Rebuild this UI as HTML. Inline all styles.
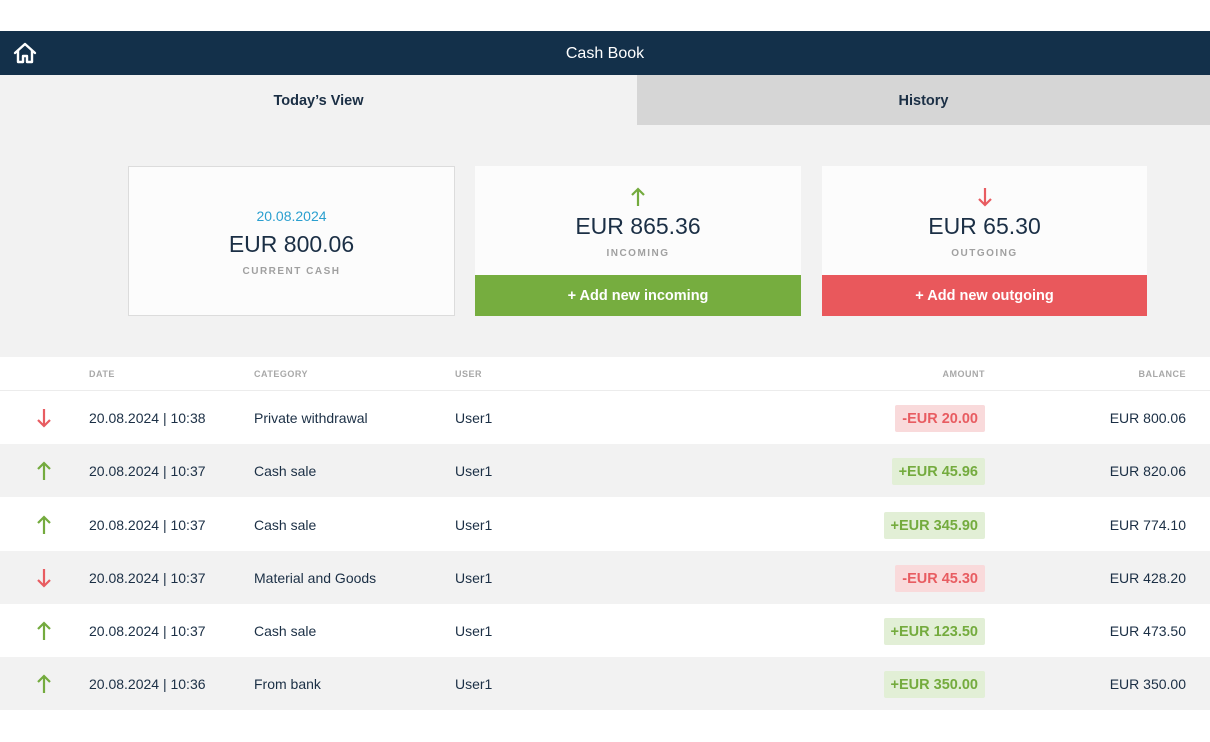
<!DOCTYPE html>
<html><head><meta charset="utf-8"><style>
*{margin:0;padding:0;box-sizing:border-box}
body{width:1210px;height:742px;background:#fff;font-family:"Liberation Sans",sans-serif;color:#1b2f45;position:relative;overflow:hidden}
.a{position:absolute}
.nav{left:0;top:31px;width:1210px;height:44px;background:#13304a;color:#fff;font-size:16px;text-align:center;line-height:46px}
.tab1{left:0;top:75px;width:637px;height:50px;background:#f2f2f2;text-align:center;line-height:52px;font-size:14.5px;font-weight:bold;color:#1b2f45}
.tab2{left:637px;top:75px;width:573px;height:50px;background:#d6d6d6;text-align:center;line-height:52px;font-size:14.5px;font-weight:bold;color:#1b2f45}
.bg{left:0;top:125px;width:1210px;height:232px;background:#f2f2f2}
.card{background:#fcfcfc;text-align:center}
.big{font-size:23px;color:#1b2f45}
.lbl{font-size:10px;letter-spacing:1.5px;color:#a0a0a0;font-weight:bold}
.btn{color:#fff;font-weight:bold;font-size:14.5px;text-align:center;line-height:43px}
.row{left:0;width:1210px;height:53px;font-size:14px;line-height:55px}
.row span{position:absolute}
.hd{font-size:9px;color:#a8a8a8;font-weight:bold;letter-spacing:.5px}
.pill{position:absolute;right:225px;top:14px;height:27px;line-height:28px;padding:0 7px;font-weight:bold;font-size:14.5px;border-radius:2px}
.neg{background:#f9dadb;color:#e85c61}
.pos{background:#e2efd6;color:#74ab3e}
.bal{right:24px}
</style></head><body>
<div class="a nav">Cash Book</div>
<svg class="a" style="left:13px;top:42px" width="24" height="22" viewBox="0 0 24 22"><path d="M2 11 L12 2 L22 11 M5 9 V20 H10 V14 H14 V20 H19 V9" fill="none" stroke="#fff" stroke-width="2.4" stroke-linejoin="round" stroke-linecap="round"/></svg>
<div class="a tab1">Today’s View</div>
<div class="a tab2">History</div>
<div class="a bg"></div>
<div class="a card" style="left:128px;top:166px;width:327px;height:150px;border:1px solid #dcdcdc">
<div style="margin-top:41px;font-size:14px;color:#2a9fcf">20.08.2024</div>
<div class="big" style="margin-top:7px">EUR 800.06</div>
<div class="lbl" style="margin-top:8px">CURRENT CASH</div></div>
<div class="a card" style="left:475px;top:166px;width:326px;height:109px">
<svg style="margin-top:21px" width="14" height="20" viewBox="0 0 14 20"><path d="M7 19 V2 M1 8 L7 2 L13 8" fill="none" stroke="#74ab3e" stroke-width="2.2"/></svg>
<div class="big" style="margin-top:1px">EUR 865.36</div>
<div class="lbl" style="margin-top:8px">INCOMING</div></div>
<div class="a btn" style="left:475px;top:275px;width:326px;height:41px;background:#76ad3f">+ Add new incoming</div>
<div class="a card" style="left:822px;top:166px;width:325px;height:109px">
<svg style="margin-top:21px" width="14" height="20" viewBox="0 0 14 20"><path d="M7 1 V18 M1 12 L7 18 L13 12" fill="none" stroke="#e85c61" stroke-width="2.2"/></svg>
<div class="big" style="margin-top:1px">EUR 65.30</div>
<div class="lbl" style="margin-top:8px">OUTGOING</div></div>
<div class="a btn" style="left:822px;top:275px;width:325px;height:41px;background:#e9585c">+ Add new outgoing</div>

<div class="a row hd" style="top:357px;height:34px;line-height:35px;border-bottom:1px solid #ececec">
<span style="left:89px">DATE</span><span style="left:254px">CATEGORY</span><span style="left:455px">USER</span><span style="right:225px">AMOUNT</span><span style="right:24px">BALANCE</span></div>

<div class="a row" style="top:391px;background:#fff"><svg class="a" style="left:37px;top:18px" width="14" height="19" viewBox="0 0 14 19"><path d="M7 0 V17 M1 11 L7 17 L13 11" fill="none" stroke="#e85c61" stroke-width="2.2"/></svg><span style="left:89px">20.08.2024 | 10:38</span><span style="left:254px">Private withdrawal</span><span style="left:455px">User1</span><span class="pill neg">-EUR 20.00</span><span class="bal">EUR 800.06</span></div>
<div class="a row" style="top:444px;background:#f2f2f2"><svg class="a" style="left:37px;top:17px" width="14" height="19" viewBox="0 0 14 19"><path d="M7 19 V2 M1 8 L7 2 L13 8" fill="none" stroke="#74ab3e" stroke-width="2.2"/></svg><span style="left:89px">20.08.2024 | 10:37</span><span style="left:254px">Cash sale</span><span style="left:455px">User1</span><span class="pill pos">+EUR 45.96</span><span class="bal">EUR 820.06</span></div>
<div class="a row" style="top:498px;background:#fff"><svg class="a" style="left:37px;top:17px" width="14" height="19" viewBox="0 0 14 19"><path d="M7 19 V2 M1 8 L7 2 L13 8" fill="none" stroke="#74ab3e" stroke-width="2.2"/></svg><span style="left:89px">20.08.2024 | 10:37</span><span style="left:254px">Cash sale</span><span style="left:455px">User1</span><span class="pill pos">+EUR 345.90</span><span class="bal">EUR 774.10</span></div>
<div class="a row" style="top:551px;background:#f2f2f2"><svg class="a" style="left:37px;top:18px" width="14" height="19" viewBox="0 0 14 19"><path d="M7 0 V17 M1 11 L7 17 L13 11" fill="none" stroke="#e85c61" stroke-width="2.2"/></svg><span style="left:89px">20.08.2024 | 10:37</span><span style="left:254px">Material and Goods</span><span style="left:455px">User1</span><span class="pill neg">-EUR 45.30</span><span class="bal">EUR 428.20</span></div>
<div class="a row" style="top:604px;background:#fff"><svg class="a" style="left:37px;top:17px" width="14" height="19" viewBox="0 0 14 19"><path d="M7 19 V2 M1 8 L7 2 L13 8" fill="none" stroke="#74ab3e" stroke-width="2.2"/></svg><span style="left:89px">20.08.2024 | 10:37</span><span style="left:254px">Cash sale</span><span style="left:455px">User1</span><span class="pill pos">+EUR 123.50</span><span class="bal">EUR 473.50</span></div>
<div class="a row" style="top:657px;background:#f2f2f2"><svg class="a" style="left:37px;top:17px" width="14" height="19" viewBox="0 0 14 19"><path d="M7 19 V2 M1 8 L7 2 L13 8" fill="none" stroke="#74ab3e" stroke-width="2.2"/></svg><span style="left:89px">20.08.2024 | 10:36</span><span style="left:254px">From bank</span><span style="left:455px">User1</span><span class="pill pos">+EUR 350.00</span><span class="bal">EUR 350.00</span></div>
</body></html>
